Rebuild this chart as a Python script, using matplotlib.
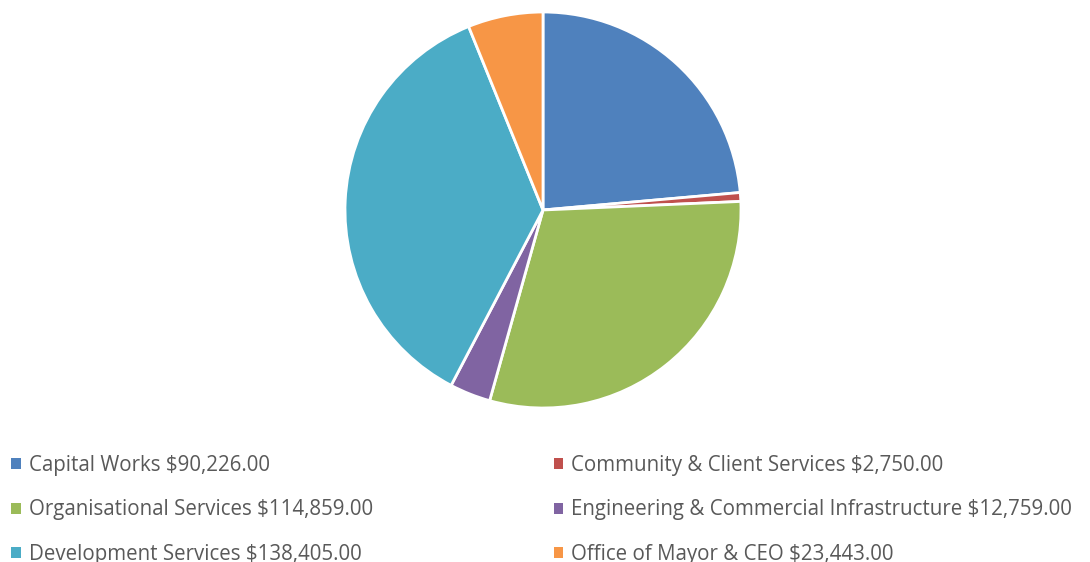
import matplotlib.pyplot as plt

# budget by department
labels = ['Capital Works', 'Community & Client Services', 'Organisational Services',
          'Engineering & Commercial Infrastructure', 'Development Services',
          'Office of Mayor & CEO']
values = [90226, 2750, 114859, 12759, 138405, 23443]
colors = ['#4F81BD', '#C0504D', '#9BBB59', '#8064A2', '#4BACC6', '#F79646']

plt.rcParams['font.family'] = ['Open Sans', 'DejaVu Sans']

fig = plt.figure(figsize=(10.9, 5.62), dpi=100)
# pie centre at (543, 210) px, radius 198 px
ax = fig.add_axes([(543 - 198) / 1090, (562 - 210 - 198) / 562, 396 / 1090, 396 / 562])

wedges, _ = ax.pie(values, colors=colors, startangle=90, counterclock=False,
                   radius=1.0, wedgeprops=dict(edgecolor='white', linewidth=2.0))
ax.set_xlim(-1, 1)
ax.set_ylim(-1, 1)
ax.set_aspect('equal')

legend_text = [f'{l} ${v:,.2f}' for l, v in zip(labels, values)]
order = [0, 2, 4, 1, 3, 5]  # row-wise order like the original
leg = fig.legend([wedges[i] for i in order], [legend_text[i] for i in order],
                 ncol=2, loc='upper left', bbox_to_anchor=(0.003, 0.205),
                 frameon=False, fontsize=14.8, handlelength=0.45, handleheight=0.45,
                 handletextpad=0.4, columnspacing=8.8, labelspacing=1.136,
                 borderaxespad=0)
for t in leg.get_texts():
    t.set_color('#595959')
for h in leg.legend_handles:
    h.set_linewidth(0)

fig.savefig('out.png', dpi=100)
